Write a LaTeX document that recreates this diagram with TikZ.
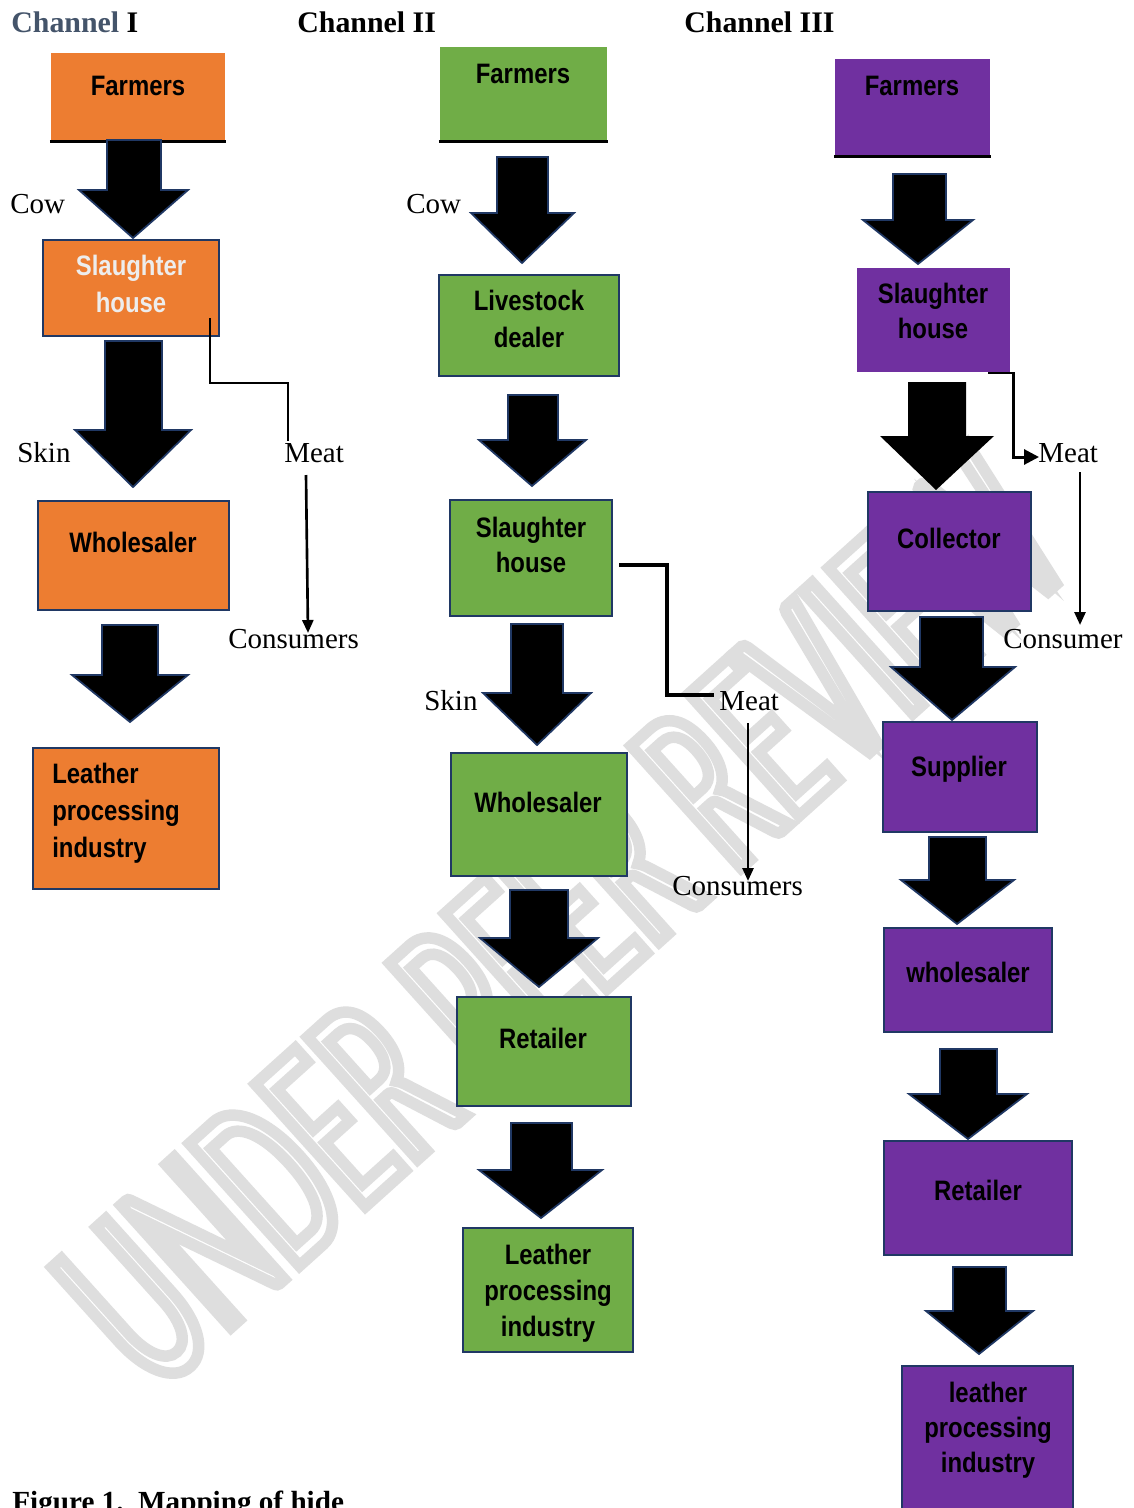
\documentclass[tikz,border=0pt]{standalone}
\usepackage{fontspec}
\setmainfont{Liberation Serif}
\newfontfamily\boxfont[FakeStretch=0.85]{Liberation Sans}
\newfontfamily\wmfont[FakeStretch=0.56]{Carlito}
\usetikzlibrary{fit,calc,arrows.meta}
\definecolor{orng}{HTML}{ED7D31}
\definecolor{grn}{HTML}{70AD47}
\definecolor{purp}{HTML}{7030A0}
\definecolor{navy}{HTML}{203864}
\definecolor{slate}{HTML}{44546A}
\newcommand{\barrow}[9][draw=navy]{\path[fill=black, line width=1pt, #1] (#2,#4) -- (#3,#4) -- (#3,#5) -- (#7,#5) -- (#8,#9) -- (#6,#5) -- (#2,#5) -- cycle;}
\newcommand{\outlinetext}[1]{\special{pdf:literal direct 1 Tr 6.5 w}#1\special{pdf:literal direct 0 Tr}}
\begin{document}
\begin{tikzpicture}[x=0.02cm,y=-0.02cm,
  box/.style={draw=navy, line width=1.2pt, inner sep=0pt},
  obox/.style={box, fill=orng},
  gbox/.style={box, fill=grn},
  pbox/.style={box, fill=purp},
  bt/.style={font=\boxfont\bfseries\fontsize{16}{20}\selectfont, anchor=base, inner sep=0pt, text=black},
  lbl/.style={font=\fontsize{16.5}{19}\selectfont, anchor=base west, inner sep=0pt},
  hd/.style={font=\bfseries\fontsize{17}{20}\selectfont, anchor=base west, inner sep=0pt},
  wm/.style={font=\wmfont\fontsize{146}{152}\selectfont, rotate=42, inner sep=0pt},
  bottomline/.style={line width=1.7pt, black},
  meatline/.style={line width=1.6pt, black},
  meatarrow/.style={line width=1.5pt, black, -{Triangle[length=0.26cm,width=0.22cm]}}
]
\useasboundingbox (0,0) rectangle (1133,1508);
\clip (0,0) rectangle (1133,1508);
\fill[white] (0,0) rectangle (1133,1508);

% watermark
\node[wm, text=gray!26] (wmark) at (562,920) {\outlinetext{UNDER PEER REVIEW}};

% headings
\node[hd] (h1) at (11,32) {\textcolor{slate}{Channel} I};
\node[hd] (h2) at (297,32) {Channel II};
\node[hd] (h3) at (684,32) {Channel III};

% ---------------- Channel I ----------------
\node[obox, draw=none, fit={(51,53)(225,140)}] (f1) {};
\draw[bottomline] (f1.south west) -- (f1.south east);
\node[bt] (f1t) at (138,95) {Farmers};
\barrow{107}{161}{140}{190}{79}{188}{133}{238}
\node[obox, fit={(43,240)(219,336)}] (s1) {};
\node[bt, text=white!93!black] (s1t1) at (131,275) {Slaughter};
\node[bt, text=white!93!black] (s1t2) at (131,312) {house};
\barrow{105}{162}{341}{430}{75}{191}{133}{487}
\node[obox, fit={(38,501)(229,610)}] (w1) {};
\node[bt] (w1t) at (133,552) {Wholesaler};
\barrow{102}{158}{625}{675}{72}{188}{130}{722}
\node[obox, fit={(33,748)(219,889)}] (l1) {};
\node[bt, anchor=base west] (l1t1) at (52,783) {Leather};
\node[bt, anchor=base west] (l1t2) at (52,820) {processing};
\node[bt, anchor=base west] (l1t3) at (52,857) {industry};

\node[lbl] (cow1) at (10,213) {Cow};
\node[lbl] (skin1) at (17,462) {Skin};
\node[lbl] (meat1) at (284,462) {Meat};
\node[lbl] (cons1) at (228,648) {Consumers};
\coordinate (m1a) at (210,318);
\coordinate (m1b) at (288,441);
\draw[meatline] (m1a) -- (210,383) -| (m1b);
\coordinate (m1c) at (306,475);
\coordinate (m1d) at (308,633);
\draw[meatarrow] (m1c) -- (m1d);

% ---------------- Channel II ----------------
\node[gbox, draw=none, fit={(440,47)(607,140)}] (f2) {};
\draw[bottomline] (f2.south west) -- (f2.south east);
\node[bt] (f2t) at (523,83) {Farmers};
\barrow{497}{548}{157}{213}{471}{574}{522}{263}
\node[gbox, fit={(439,275)(619,376)}] (d2) {};
\node[bt] (d2t1) at (529,310) {Livestock};
\node[bt] (d2t2) at (529,347) {dealer};
\barrow{508}{558}{395}{440}{479}{586}{532}{486}
\node[gbox, fit={(450,500)(612,616)}] (s2) {};
\node[bt] (s2t1) at (531,537) {Slaughter};
\node[bt] (s2t2) at (531,572) {house};
\barrow{511}{563}{624}{693}{483}{591}{537}{745}
\node[gbox, fit={(451,753)(627,876)}] (w2) {};
\node[bt] (w2t) at (538,812) {Wholesaler};
\barrow{510}{568}{890}{938}{480}{598}{539}{987}
\node[gbox, fit={(457,997)(631,1106)}] (r2) {};
\node[bt] (r2t) at (543,1048) {Retailer};
\barrow{511}{572}{1123}{1170}{479}{602}{541}{1218}
\node[gbox, fit={(463,1228)(633,1352)}] (l2) {};
\node[bt] (l2t1) at (548,1264) {Leather};
\node[bt] (l2t2) at (548,1300) {processing};
\node[bt] (l2t3) at (548,1336) {industry};

\node[lbl] (cow2) at (406,213) {Cow};
\node[lbl] (skin2) at (424,710) {Skin};
\node[lbl] (meat2) at (719,710) {Meat};
\node[lbl] (cons2) at (672,895) {Consumers};
\coordinate (m2a) at (619,565);
\coordinate (m2b) at (714,695);
\draw[line width=2.2pt] (m2a) -- (667,565) |- (m2b);
\coordinate (m2c) at (748,723);
\coordinate (m2d) at (748,881);
\draw[meatarrow] (m2c) -- (m2d);

% ---------------- Channel III ----------------
\node[pbox, draw=none, fit={(835,59)(990,155)}] (f3) {};
\draw[bottomline] (f3.south west) -- (f3.south east);
\node[bt] (f3t) at (912,95) {Farmers};
\barrow{893}{946}{174}{220}{863}{973}{918}{264}
\node[pbox, draw=none, fit={(857,268)(1010,372)}] (s3) {};
\node[bt] (s3t1) at (933,303) {Slaughter};
\node[bt] (s3t2) at (933,338) {house};
\barrow[draw=none]{908}{966}{382}{436}{880}{994}{936}{490}
\node[pbox, fit={(868,492)(1031,611)}] (c3) {};
\node[bt] (c3t) at (949,548) {Collector};
\barrow{920}{983}{617}{667}{891}{1015}{952}{720}
\node[pbox, fit={(883,722)(1037,832)}] (p3) {};
\node[bt] (p3t) at (959,776) {Supplier};
\barrow{929}{986}{837}{880}{901}{1014}{957}{924}
\node[pbox, fit={(884,928)(1052,1032)}] (w3) {};
\node[bt] (w3t) at (968,982) {wholesaler};
\barrow{940}{997}{1049}{1094}{909}{1027}{968}{1139}
\node[pbox, fit={(884,1141)(1072,1255)}] (r3) {};
\node[bt] (r3t) at (978,1200) {Retailer};
\barrow{953}{1006}{1267}{1311}{926}{1033}{979}{1354}
\node[pbox, fit={(902,1366)(1073,1520)}] (l3) {};
\node[bt] (l3t1) at (988,1402) {leather};
\node[bt] (l3t2) at (988,1437) {processing};
\node[bt] (l3t3) at (988,1472) {industry};

\node[lbl] (meat3) at (1038,462) {Meat};
\node[lbl] (cons3) at (1003,648) {Consumer};
\coordinate (m3a) at (988,373);
\coordinate (m3b) at (1039,457);
\draw[line width=1.7pt, -{Triangle[length=0.3cm,width=0.3cm]}] (m3a) -- (1013,373) |- (m3b);
\coordinate (m3c) at (1080,472);
\coordinate (m3d) at (1080,625);
\draw[meatarrow] (m3c) -- (m3d);

% caption
\node[hd, font=\bfseries\fontsize{16.6}{20}\selectfont] (cap) at (12,1511) {Figure 1.\ \ Mapping of hide};
\end{tikzpicture}
\end{document}
